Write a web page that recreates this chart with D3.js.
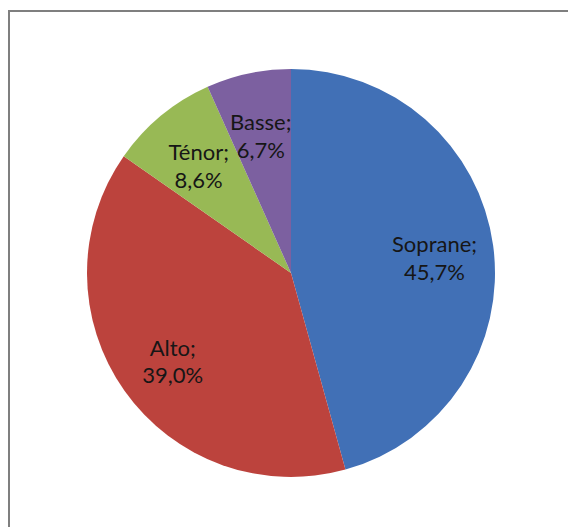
<!DOCTYPE html>
<html>
<head>
<meta charset="utf-8">
<script src="https://cdn.jsdelivr.net/npm/d3@7"></script>
<style>
  html, body { margin: 0; padding: 0; background: #fff; overflow: hidden; }
  svg { display: block; }
  .slice-label { font-family: Lato, "Open Sans", sans-serif; font-size: 22px; fill: #161616; }
</style>
</head>
<body>
<div id="chart"></div>
<script>
// Voice parts share (%), clockwise from 12 o'clock
const voices = ["Soprane", "Alto", "Ténor", "Basse"];
const shares = [45.7, 39.0, 8.6, 6.7];
const shareLabels = ["45,7%", "39,0%", "8,6%", "6,7%"];
const sliceColors = ["#4170B6", "#BC433D", "#98B955", "#7C60A0"];

const width = 568, height = 527;
const svg = d3.select("#chart").append("svg")
  .attr("width", width)
  .attr("height", height);

// chart frame: only the top and left edges fall inside the picture
svg.append("path")
  .attr("d", `M9,${height} V11 H${width}`)
  .attr("fill", "none")
  .attr("stroke", "#7f7f7f")
  .attr("stroke-width", 2);

const cx = 291, cy = 273, radius = 204;
const g = svg.append("g").attr("transform", `translate(${cx},${cy})`);

const pie = d3.pie().sort(null).value((d) => d.value);
const rows = voices.map((v, i) => ({ name: v, value: shares[i], label: shareLabels[i], color: sliceColors[i] }));
const arcs = pie(rows);

const arc = d3.arc().innerRadius(0).outerRadius(radius);
const labelArc = d3.arc().innerRadius(radius * 0.71).outerRadius(radius * 0.71);

g.selectAll("path.slice")
  .data(arcs)
  .join("path")
  .attr("class", "slice")
  .attr("d", arc)
  .attr("fill", (d) => d.data.color);

const labels = g.selectAll("text.slice-label")
  .data(arcs)
  .join("text")
  .attr("class", "slice-label")
  .attr("text-anchor", "middle")
  .attr("transform", (d) => `translate(${labelArc.centroid(d)})`);

labels.append("tspan").attr("x", 0).attr("dy", "-0.05em").text((d) => d.data.name + ";");
labels.append("tspan").attr("x", 0).attr("dy", "1.27em").text((d) => d.data.label);
</script>
</body>
</html>
